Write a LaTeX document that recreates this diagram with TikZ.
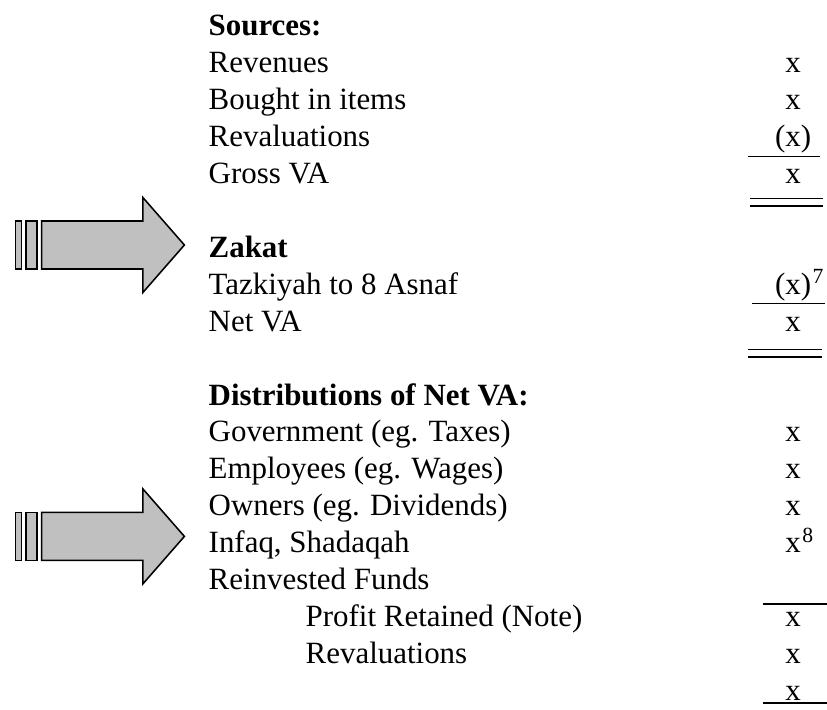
\documentclass[tikz,border=0pt]{standalone}
\usepackage{fontspec}
\setmainfont{Liberation Serif}
\definecolor{arrowgray}{RGB}{192,192,192}

\begin{document}
\begin{tikzpicture}[line width=1pt]
\tikzset{item/.style={anchor=base west,inner sep=0pt,font=\fontsize{22}{26}\selectfont},
  amount/.style={anchor=base,inner sep=0pt,font=\fontsize{22}{26}\selectfont},
  rule/.style={line width=1.1pt},
  fatarrow/.style={fill=arrowgray,draw=black,line width=1.1pt,line join=miter}}
\useasboundingbox (0,0) rectangle (20.675,-17.725);
% ---------- labels ----------
\foreach \k/\txt in {0/\textbf{Sources:},1/Revenues,2/Bought in items,3/Revaluations,
    4/Gross VA,6/\textbf{Zakat},7/Tazkiyah to 8 Asnaf,8/Net VA,
    10/\textbf{Distributions of Net VA:},11/Government (eg. Taxes),
    12/Employees (eg. Wages),13/Owners (eg. Dividends),14/{Infaq, Shadaqah},
    15/Reinvested Funds}
  \node[item] (lbl\k) at (5.2,-0.9-0.9225*\k) {\txt};
\foreach \k/\txt in {16/Profit Retained (Note),17/Revaluations}
  \node[item] (lbl\k) at (7.625,-0.9-0.9225*\k) {\txt};
% ---------- amounts ----------
\foreach \k/\txt in {1/x,2/x,3/(x),4/x,7/(x)\rlap{\kern1pt\textsuperscript{7}},8/x,
    11/x,12/x,13/x,14/x\rlap{\kern1pt\textsuperscript{8}},16/x,17/x,18/x}
  \node[amount] (val\k) at (19.83,-0.9-0.9225*\k) {\txt};
% ---------- rules ----------
\draw[rule] (18.70,-3.9175) -- (20.50,-3.9175);
\draw[rule] (18.75,-4.958) -- (20.575,-4.958);
\draw[rule] (18.75,-5.145) -- (20.575,-5.145);
\draw[rule] (18.80,-7.5875) -- (20.625,-7.5875);
\draw[rule] (18.70,-8.7375) -- (20.55,-8.7375);
\draw[rule] (18.70,-8.93) -- (20.55,-8.93);
\draw[rule] (19.075,-15.10) -- (20.675,-15.10);
\draw[rule] (19.075,-17.575) -- (20.675,-17.575);
% ---------- block arrows ----------
\foreach \ay in {-6.125,-13.41}{
  \begin{scope}[shift={(0,\ay)}]
    \draw[fatarrow] (0.39,-0.6) rectangle (0.54,0.6);
    \draw[fatarrow] (0.65,-0.6) rectangle (0.92,0.6);
    \draw[fatarrow] (1.04,-0.6) -- (3.57,-0.6) -- (3.57,-1.19) -- (4.61,0)
      -- (3.57,1.19) -- (3.57,0.6) -- (1.04,0.6) -- cycle;
  \end{scope}}
\end{tikzpicture}
\end{document}
